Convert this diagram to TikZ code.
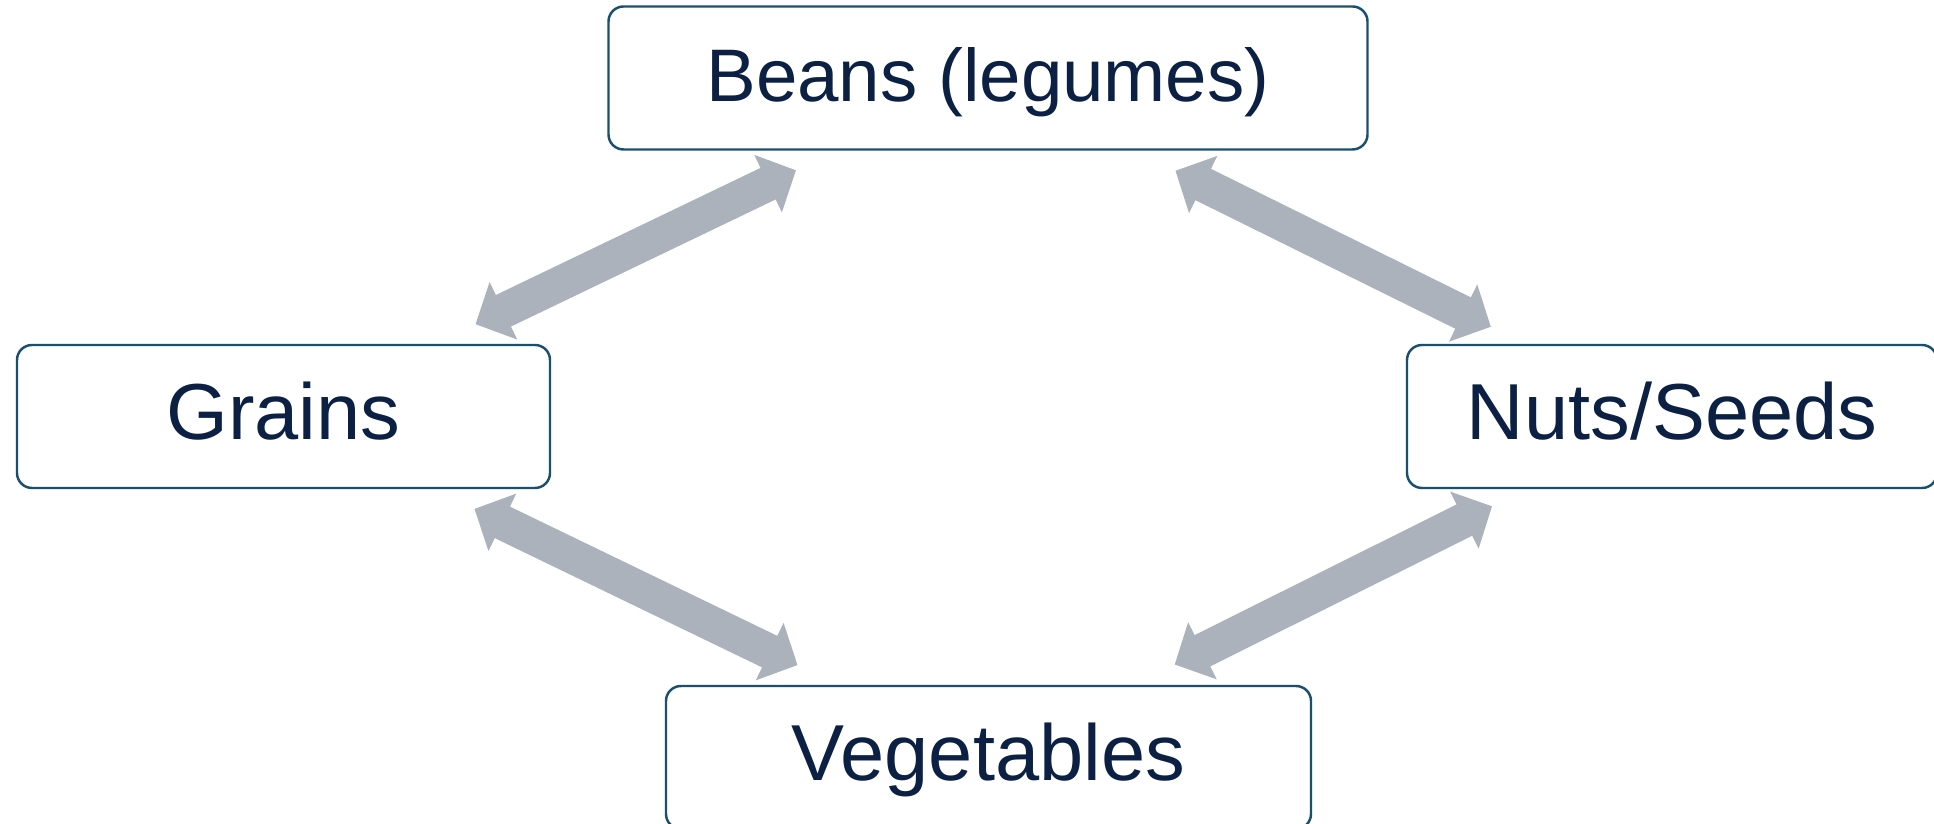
\documentclass[tikz,border=0pt]{standalone}
\usepackage{fontspec}
\setmainfont{Liberation Sans}
\usepackage{tikz}
\usetikzlibrary{arrows.meta,positioning}
\definecolor{boxline}{HTML}{1B4F6E}
\definecolor{boxtext}{HTML}{0B2042}
\definecolor{linkgray}{HTML}{ABB2BB}

\begin{document}
\begin{tikzpicture}[
        box/.style = {draw=boxline, line width=0.7pt, rounded corners=0.15cm,
                      minimum height=1.43cm, outer sep=0pt, text=boxtext,
                      font=\fontsize{22.6}{27}\selectfont,
                      text height=16pt, text depth=2.7pt},
        link/.style = {draw=linkgray, line width=0.35cm,
                       {Triangle[width=0.62cm,length=0.31cm]}-{Triangle[width=0.62cm,length=0.31cm]},
                       shorten <=0.48cm, shorten >=0.48cm},
        ]
        \useasboundingbox (0,0) rectangle (19.34,-8.24);

        \node[box, minimum width=7.59cm, font=\fontsize{21.2}{25}\selectfont](beans) at (9.88,-0.78) {Beans (legumes)};
        \node[box, minimum width=5.33cm](grains) at (2.835,-4.165) {Grains};
        \node[box, minimum width=5.30cm](nuts) at (16.72,-4.165) {Nuts/Seeds};
        \node[box, minimum width=6.45cm](veg) at (9.885,-7.575) {Vegetables};

        \draw[link] (grains) -- (beans);
        \draw[link, shorten >=0.41cm] (beans) -- (nuts);
        \draw[link] (grains) -- (veg);
        \draw[link, shorten <=0.41cm] (nuts) -- (veg);

        \end{tikzpicture}
\end{document}
